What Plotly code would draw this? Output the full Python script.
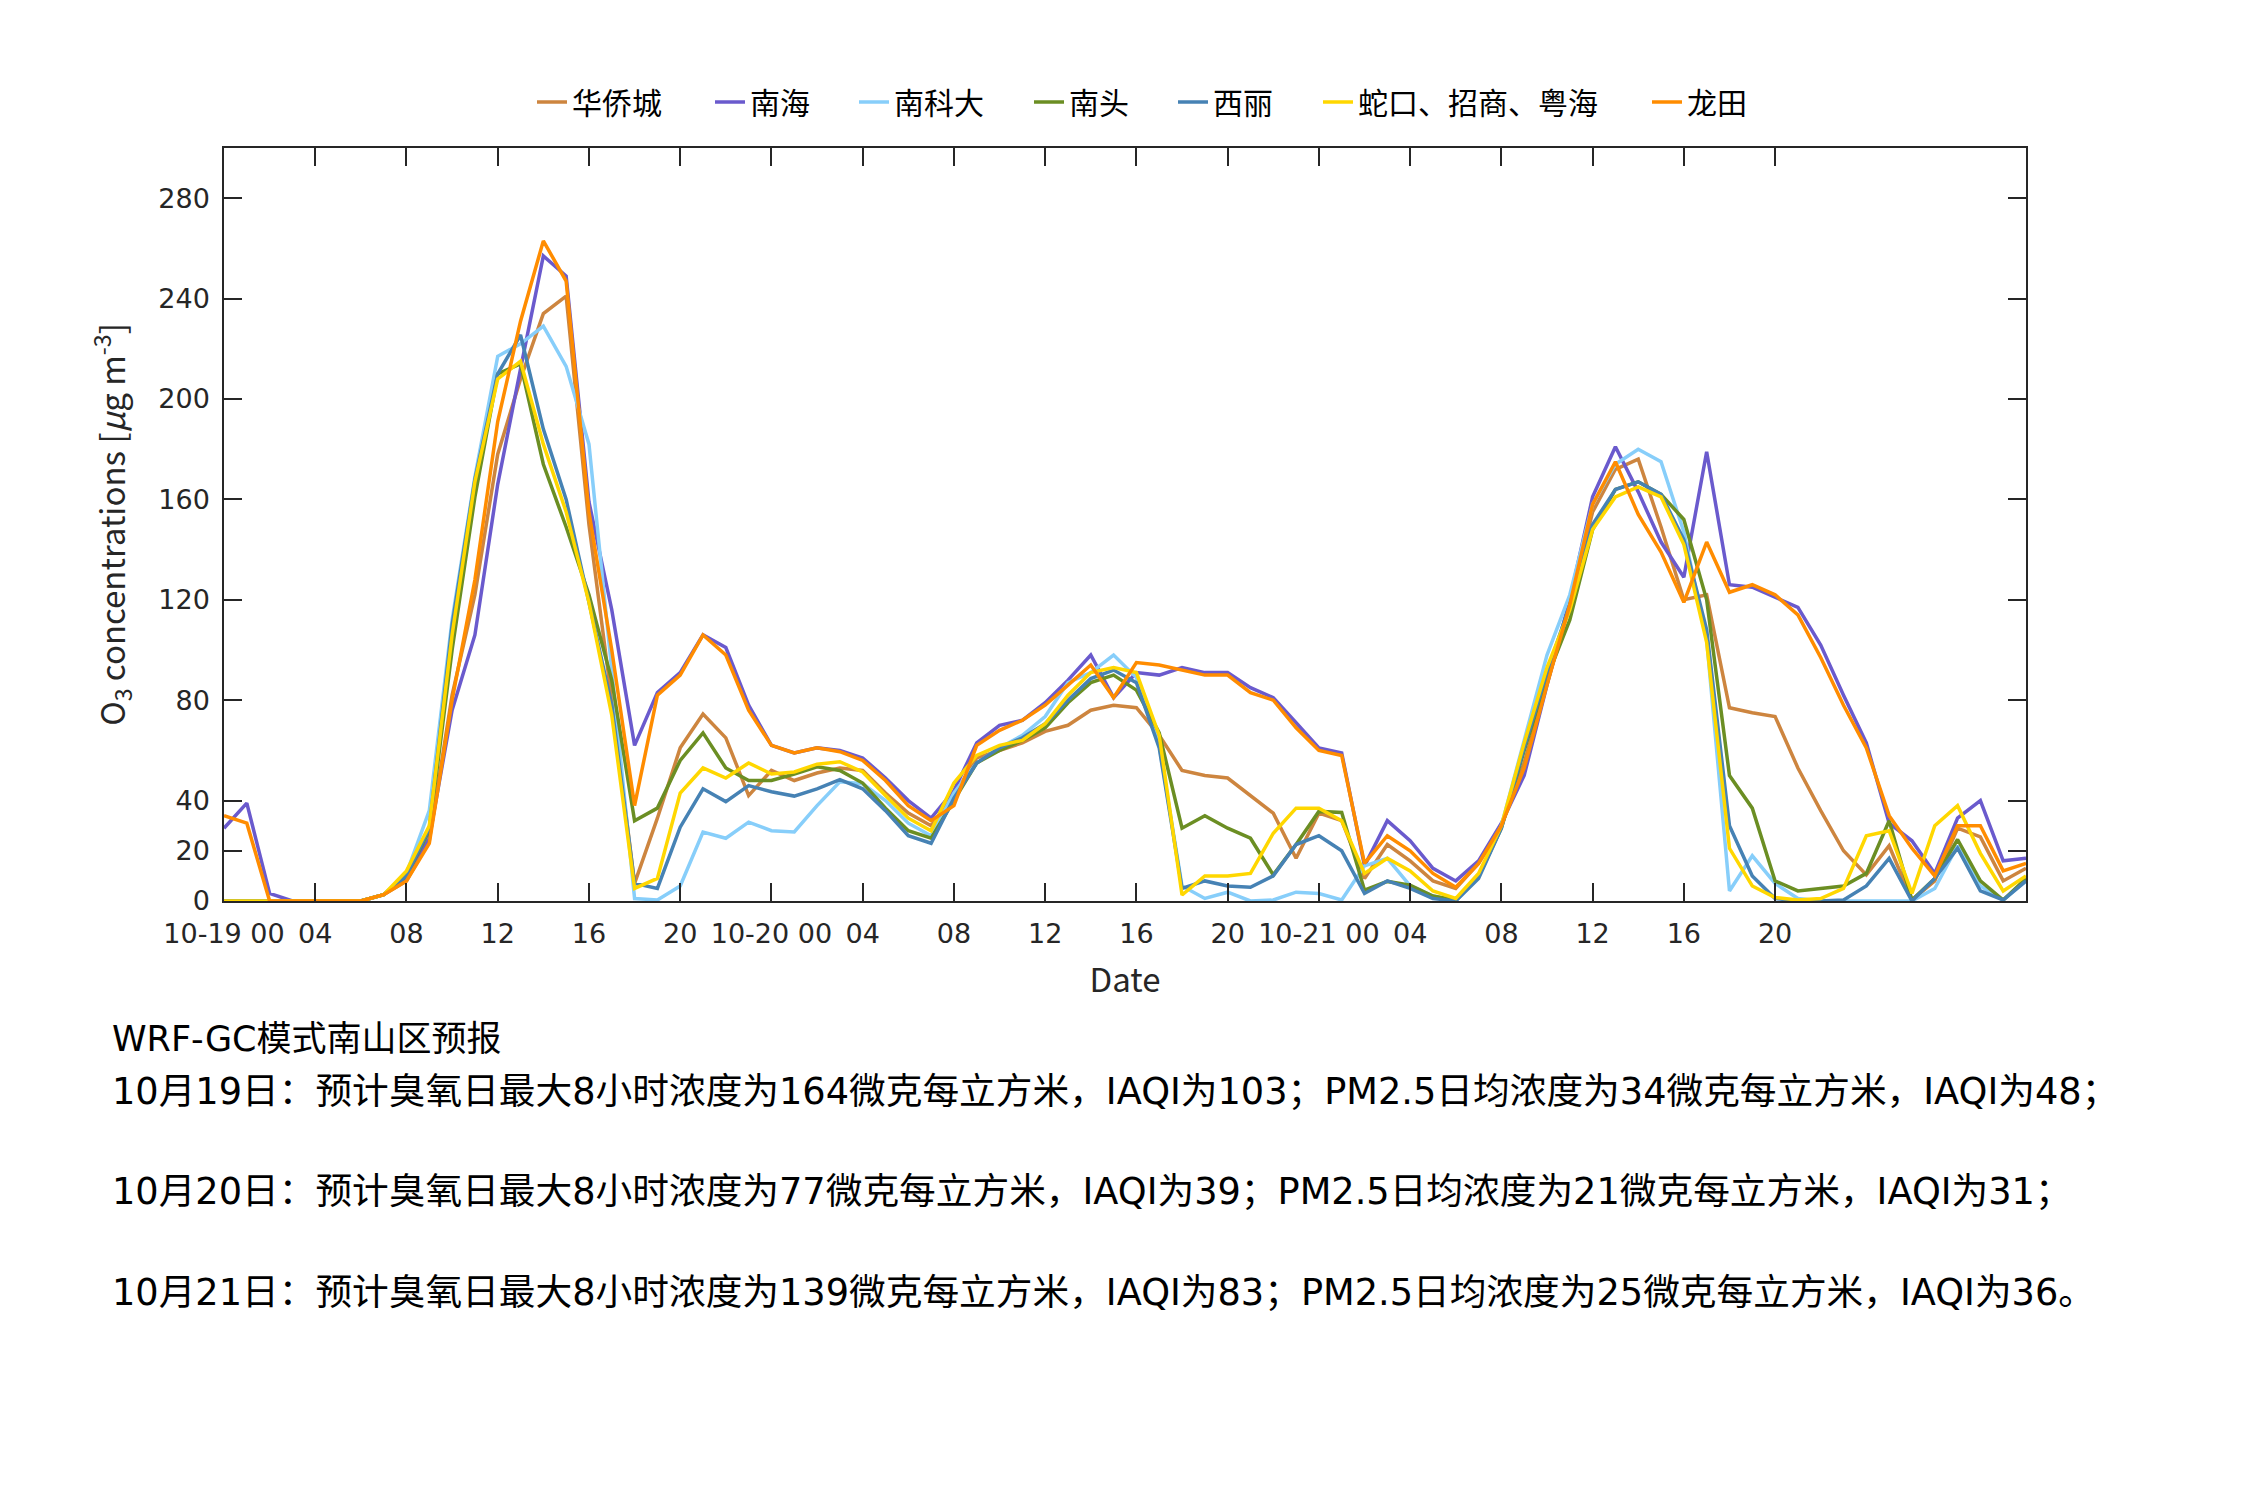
import plotly.graph_objects as go

# ---------------- data (hourly O3, 10-19 00 .. 10-22 07) ----------------
hours = list(range(80))

names = ["华侨城", "南海", "南科大", "南头", "西丽", "蛇口、招商、粤海", "龙田"]
colors = ["#CD853F", "#6A5ACD", "#87CEFA", "#6B8E23", "#4682B4", "#FFD700", "#FF8C00"]

huaqiaocheng = [0, 0, 0, 0, 0, 0, 0, 2.5, 8, 24, 82, 122, 178, 208, 234, 241, 150, 80, 7, 33,
                61, 74.5, 65, 42, 52, 48, 51, 53, 52, 43, 35, 30, 42, 57, 60, 63, 67.6, 70, 76, 78,
                77, 66, 52, 50, 49, 42, 35, 17, 35, 32, 9, 22.5, 16, 8, 5, 15, 30, 55, 86, 118,
                155, 172, 176, 149, 120, 122, 77, 75, 73.5, 53, 36, 20, 10.4, 22, 0.4, 8, 29, 25.5, 8, 13]
nanhai = [29, 39, 3, 0, 0, 0, 0, 2.5, 9, 25, 76, 106, 166, 212, 257, 249, 159, 116, 62, 83,
          91, 106, 101, 78, 62, 59, 61, 60, 57, 49, 40, 33, 44, 63, 70, 72, 79, 88, 98, 81,
          91, 90, 93, 91, 91, 85, 81, 71, 61, 59, 14, 32, 24, 13, 8, 16, 31, 50, 86, 120,
          161, 181, 163, 143, 129, 179, 126, 125, 121, 117, 102, 82, 63, 31, 24, 11, 33, 40, 16, 17]
nankeda = [0, 0, 0, 0, 0, 0, 0, 2.5, 11, 36, 112, 169, 217, 222, 229, 213, 182, 92, 1, 0.4,
           6, 27.5, 25, 31.4, 28, 27.5, 38, 47.5, 46.7, 40, 31, 26, 43, 55, 61, 66, 73.5, 87, 91, 98,
           89, 62, 6, 1, 3.5, 0, 0.4, 3.5, 3, 0.4, 14, 17, 6, 2, 0, 10, 30, 64, 98, 122,
           158, 174, 180, 175, 147, 104, 4, 18, 7, 1, 0, 0, 0, 0, 0, 5, 22, 6, 0.4, 8]
nantou = [0, 0, 0, 0, 0, 0, 0, 2.5, 10, 28, 100, 161, 210, 214, 174, 149, 122, 88, 32, 37,
          56, 67, 53, 48, 48, 50.6, 53.5, 52, 47, 37, 28, 25, 40, 55, 60, 64, 69, 79, 87, 90,
          84, 67, 29, 34, 29, 25, 10.4, 22.5, 35.7, 35.3, 4.3, 7.8, 6.3, 2, 0.4, 9.8, 29, 60, 89, 112,
          148, 164, 167, 162, 152, 120, 50, 37, 8, 4, 5, 6, 11, 32, 0.4, 9, 24.5, 8, 0.4, 9]
xili = [0, 0, 0, 0, 0, 0, 0, 2.5, 10, 29, 110, 168, 210, 225.5, 188, 160, 119, 78, 7, 5,
        29.4, 44.7, 39.6, 46, 43.5, 41.8, 44.7, 48.4, 44.7, 36, 26, 23, 41, 55, 61, 65, 70.6, 80, 88.6, 92,
        87, 61, 5, 8, 6, 5.5, 10, 22.5, 26, 20, 3, 8, 5, 1, 0, 9, 29, 61, 91, 118,
        150, 164, 167, 162, 144, 108, 30, 10, 1, 0, 0, 0.4, 6, 17, 0, 9, 21, 4, 0.4, 8]
shekou = [0, 0, 0, 0, 0, 0, 0, 2.5, 12, 30, 106, 167, 208, 215, 182, 155, 119, 74, 5, 9,
          43, 53, 49, 55, 50.6, 51.4, 54.5, 55.5, 51.4, 42, 33, 28, 47, 58, 62, 64, 70.6, 82, 91, 93,
          91, 66, 2.4, 10, 10, 11, 27, 37, 37, 32, 11, 17, 12, 4, 1, 11, 30, 63, 93, 116,
          148, 161, 165, 161, 142, 103, 21, 6, 1.4, 0.4, 1, 5, 26, 28, 3, 30, 38, 19, 4, 10]
longtian = [34, 31, 0, 0, 0, 0, 0, 2.5, 8, 23, 80, 128, 191, 231, 263, 247, 155, 100, 38, 82,
            90, 106, 98, 76, 62, 59, 61, 59.5, 56, 48, 38, 32, 38, 62, 68, 72, 78, 86, 94, 81,
            95, 94, 92, 90, 90, 83, 80, 69, 60, 58, 15, 26, 20, 11, 5.5, 15, 30, 53, 86, 118,
            158, 175, 154, 139, 119, 143, 123, 126, 122, 114, 97, 78, 61, 34, 21, 10, 30, 30, 12, 15]

series = [huaqiaocheng, nanhai, nankeda, nantou, xili, shekou, longtian]

tick_vals = list(range(0, 69, 4))
tick_text = ["10-19 00", "04", "08", "12", "16", "20",
             "10-20 00", "04", "08", "12", "16", "20",
             "10-21 00", "04", "08", "12", "16", "20"]
y_ticks = [0, 20, 40, 80, 120, 160, 200, 240, 280]

text_lines = [
    "WRF-GC模式南山区预报",
    "10月19日：预计臭氧日最大8小时浓度为164微克每立方米，IAQI为103；PM2.5日均浓度为34微克每立方米，IAQI为48；",
    "10月20日：预计臭氧日最大8小时浓度为77微克每立方米，IAQI为39；PM2.5日均浓度为21微克每立方米，IAQI为31；",
    "10月21日：预计臭氧日最大8小时浓度为139微克每立方米，IAQI为83；PM2.5日均浓度为25微克每立方米，IAQI为36。",
]

# ---------------- layout constants (screen pixels) ----------------
W, H = 2250, 1500
OFF = 8                      # page body margin of the html page
L, R, T, B = 224, 2026, 148, 901
legend_widths = [133, 99, 130, 99, 100, 284, 70]
text_y_px = [1039, 1091, 1191, 1292]
text_sizes = [35, 36.7, 36.7, 36.7]
text_x_px = 110


def px_x(x):
    return (x - L) / (R - L)


def px_y(y):
    return (B - y) / (B - T)


CJK = "Noto Sans CJK SC"
LATIN_CJK = "DejaVu Sans, Noto Sans CJK SC"
TICKFONT = dict(family="DejaVu Sans", size=27, color="#262626")

fig = go.Figure()
for name, col, vals, lw in zip(names, colors, series, legend_widths):
    fig.add_trace(go.Scatter(
        x=hours, y=vals, mode="lines", name=name,
        line=dict(color=col, width=3.5),
        legendwidth=lw,
    ))

axis_common = dict(
    showline=True, linecolor="#262626", linewidth=1.5, mirror="ticks",
    ticks="inside", ticklen=18, tickwidth=1.5, tickcolor="#262626",
    showgrid=False, zeroline=False, tickfont=TICKFONT,
)

fig.update_xaxes(
    range=[0, 79], tickmode="array", tickvals=tick_vals, ticktext=tick_text,
    tickangle=0, ticklabelstandoff=8,
    title=dict(text="Date", font=dict(family=CJK, size=33, color="#262626"), standoff=21),
    **axis_common,
)
fig.update_yaxes(
    range=[0, 300], tickmode="array", tickvals=y_ticks, ticklabelstandoff=7,
    title=dict(text="O<sub>3</sub> concentrations [<i>μ</i>g m<sup>-3</sup>]",
               font=dict(family=CJK, size=33, color="#262626"), standoff=23),
    **axis_common,
)

annotations = []
for txt, ypx, fs in zip(text_lines, text_y_px, text_sizes):
    annotations.append(dict(
        text=txt, xref="paper", yref="paper", x=px_x(text_x_px), y=px_y(ypx),
        xanchor="left", yanchor="middle", showarrow=False,
        font=dict(family=LATIN_CJK, size=fs, color="#000000"),
    ))

fig.update_layout(
    width=W, height=H,
    margin=dict(l=L - OFF, r=W - R + OFF, t=T - OFF, b=H - B + OFF, autoexpand=False),
    paper_bgcolor="white", plot_bgcolor="white",
    showlegend=True,
    legend=dict(
        orientation="h", x=px_x(532), xanchor="left", y=px_y(102), yanchor="middle",
        font=dict(family=CJK, size=30, color="#000000"),
        bgcolor="rgba(0,0,0,0)", itemclick=False,
    ),
    annotations=annotations,
)

fig.write_html("out.html")
